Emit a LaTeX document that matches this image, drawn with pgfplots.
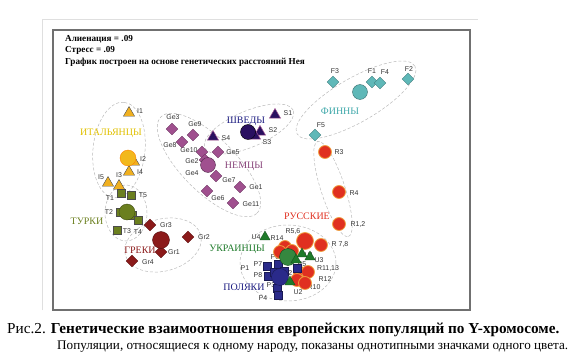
\documentclass[border=0pt]{standalone}
\usepackage{fontspec}
\setmainfont{Liberation Serif}
\setsansfont{Liberation Sans}
\usepackage{pgfplots}
\pgfplotsset{compat=1.18}
\definecolor{finn}{HTML}{5FB8B8}
\definecolor{finnlbl}{HTML}{3FA8AA}
\definecolor{rus}{HTML}{E03020}
\definecolor{rusring}{HTML}{F0A040}
\definecolor{ukr}{HTML}{1E7A2A}
\definecolor{pol}{HTML}{2A2A8A}
\definecolor{ita}{HTML}{F0B020}
\definecolor{italbl}{HTML}{E0C000}
\definecolor{tur}{HTML}{6B7F1F}
\definecolor{gre}{HTML}{8B1A1A}
\definecolor{ger}{HTML}{A0508F}
\definecolor{swe}{HTML}{2A1060}
\definecolor{swelbl}{HTML}{1A1A80}
\definecolor{frame}{HTML}{707070}
\tikzset{
  lbl/.style={font=\sffamily\fontsize{7}{8}\selectfont, text=black!80, inner sep=0pt},
  grp/.style={font=\fontsize{10}{11}\selectfont, inner sep=0pt},
  ell/.style={draw=gray!55, densely dashed, line width=0.5pt}}
\begin{document}
\begin{tikzpicture}[x=1bp,y=1bp]
\path[use as bounding box] (0,0) rectangle (574,359);
\begin{axis}[at={(53bp,49bp)}, anchor=south west, scale only axis,
  width=417bp, height=280bp, xmin=53, xmax=470, ymin=30, ymax=310, y dir=reverse,
  xtick=\empty, ytick=\empty, axis line style={draw=frame, line width=1.8pt}, clip=false]
% ellipses
\draw[ell, rotate around={30:(axis cs:356,100)}] (axis cs:356,100) ellipse [x radius=68bp, y radius=22bp];
\draw[ell, rotate around={-72:(axis cs:333,189)}] (axis cs:333,189) ellipse [x radius=50bp, y radius=12bp];
\draw[ell] (axis cs:288,263) ellipse [x radius=48bp, y radius=38bp];
\draw[ell, rotate around={84:(axis cs:119,150)}] (axis cs:119,150) ellipse [x radius=48bp, y radius=26bp];
\draw[ell] (axis cs:126,213) ellipse [x radius=21bp, y radius=28bp];
\draw[ell, rotate around={15:(axis cs:163,245)}] (axis cs:163,245) ellipse [x radius=39bp, y radius=26bp];
\draw[ell, rotate around={-45:(axis cs:209,165)}] (axis cs:209,165) ellipse [x radius=68bp, y radius=27bp];
\draw[ell, rotate around={23:(axis cs:249,129)}] (axis cs:249,129) ellipse [x radius=48bp, y radius=18bp];
% Finns
\addplot[only marks, mark=square*, mark size=4.2pt, mark options={rotate=45, fill=finn, draw=finn!70!black, line width=0.3pt}] coordinates {(333,82) (372,82) (380,83) (408,79) (315,135)};
\addplot[only marks, mark=*, mark size=7.5pt, mark options={fill=finn, draw=finn!60!black, line width=0.4pt}] coordinates {(360,92)};
% Germans
\addplot[only marks, mark=square*, mark size=4.2pt, mark options={rotate=45, fill=ger, draw=ger!70!black, line width=0.3pt}] coordinates {(172,129) (193,135) (182,142) (202,152) (218,152) (205,160) (216,176) (240,187) (207,191) (233,203)};
\addplot[only marks, mark=*, mark size=7.5pt, mark options={fill=ger, draw=ger!50!black, line width=0.4pt}] coordinates {(208,165)};
% Swedes
\addplot[only marks, mark=triangle*, mark size=6.5pt, mark options={fill=swe, draw=ger, line width=0.5pt}] coordinates {(275,115) (260,132) (255,136) (213,137)};
\addplot[only marks, mark=*, mark size=7.5pt, mark options={fill=swe, draw=black, line width=0.4pt}] coordinates {(248,132)};
% Italians
\addplot[only marks, mark=triangle*, mark size=6.5pt, mark options={fill=ita, draw=black!70, line width=0.4pt}] coordinates {(129,113) (134,162) (129,172) (108,183) (119,186)};
\addplot[only marks, mark=*, mark size=8pt, mark options={fill=ita!90!yellow, draw=orange, line width=0.4pt}] coordinates {(128,158)};
% Turks
\addplot[only marks, mark=square*, mark size=4pt, mark options={fill=tur, draw=black!70, line width=0.3pt}] coordinates {(121,193) (131,195) (120,212) (132,215) (138,220) (117,230)};
\addplot[only marks, mark=*, mark size=8pt, mark options={fill=tur, draw=tur!60!black, line width=0.4pt}] coordinates {(127,212)};
% Greeks
\addplot[only marks, mark=square*, mark size=4.2pt, mark options={rotate=45, fill=gre, draw=gre!70!black, line width=0.3pt}] coordinates {(150,225) (188,237) (161,252) (132,261)};
\addplot[only marks, mark=*, mark size=8.5pt, mark options={fill=gre, draw=gre!60!black, line width=0.4pt}] coordinates {(161,240)};
% Russians
\addplot[only marks, mark=*, mark size=6.5pt, mark options={fill=rus, draw=rusring, line width=0.8pt}] coordinates {(325,152) (339,192) (339,224) (321,245) (285,247) (292,251) (280,252) (300,273) (308,272) (297,280) (305,283)};
\addplot[only marks, mark=*, mark size=8.5pt, mark options={fill=rus, draw=rusring, line width=0.8pt}] coordinates {(305,241)};
% Poles
\addplot[only marks, mark=square*, mark size=4pt, mark options={fill=pol, draw=pol!60!black, line width=0.3pt}] coordinates {(267,266) (278,264) (268,276) (274,272) (284,271) (297,268) (277,288) (278,295)};
\addplot[only marks, mark=*, mark size=8.5pt, mark options={fill=pol, draw=pol!60!black, line width=0.4pt}] coordinates {(280,277)};
% Ukrainians
\addplot[only marks, mark=*, mark size=8.5pt, mark options={fill=ukr!90!white, draw=ukr!60!black, line width=0.4pt}] coordinates {(288,257)};
\addplot[only marks, mark=triangle*, mark size=6pt, mark options={fill=ukr, draw=ukr!60!black, line width=0.3pt}] coordinates {(265,237) (302,254) (296,260) (310,257) (290,282)};
% point labels
\node[lbl] at (axis cs:335,71) {F3};
\node[lbl] at (axis cs:372,71) {F1};
\node[lbl] at (axis cs:385,72) {F4};
\node[lbl] at (axis cs:409,69) {F2};
\node[lbl] at (axis cs:321,125) {F5};
\node[lbl] at (axis cs:339,152) {R3};
\node[lbl] at (axis cs:354,193) {R4};
\node[lbl] at (axis cs:358,225) {R1,2};
\node[lbl] at (axis cs:293,232) {R5,6};
\node[lbl] at (axis cs:340,245) {R 7,8};
\node[lbl] at (axis cs:277,238.5) {R14};
\node[lbl] at (axis cs:284,247.5) {R9};
\node[lbl] at (axis cs:256,237) {U4};
\node[lbl] at (axis cs:309,255) {U1};
\node[lbl] at (axis cs:319,260) {U3};
\node[lbl] at (axis cs:302,264) {P5};
\node[lbl] at (axis cs:275,257) {P6};
\node[lbl] at (axis cs:258,264) {P7};
\node[lbl] at (axis cs:245,268) {P1};
\node[lbl] at (axis cs:258,275) {P8};
\node[lbl] at (axis cs:288,273) {P2};
\node[lbl] at (axis cs:271,285) {P3};
\node[lbl] at (axis cs:263,298) {P4};
\node[lbl] at (axis cs:298,292) {U2};
\node[lbl] at (axis cs:314,287) {R10};
\node[lbl] at (axis cs:328,269) {R11,13};
\node[lbl] at (axis cs:325,279) {R12};
\node[lbl] at (axis cs:140,111) {I1};
\node[lbl] at (axis cs:143,159) {I2};
\node[lbl] at (axis cs:140,172) {I4};
\node[lbl] at (axis cs:119,175) {I3};
\node[lbl] at (axis cs:101,177) {I5};
\node[lbl] at (axis cs:110,198) {T1};
\node[lbl] at (axis cs:143,195) {T5};
\node[lbl] at (axis cs:109,212) {T2};
\node[lbl] at (axis cs:138,232) {T4};
\node[lbl] at (axis cs:127,231) {T3};
\node[lbl] at (axis cs:166,225) {Gr3};
\node[lbl] at (axis cs:204,237) {Gr2};
\node[lbl] at (axis cs:174,252) {Gr1};
\node[lbl] at (axis cs:148,262) {Gr4};
\node[lbl] at (axis cs:173,117) {Ge3};
\node[lbl] at (axis cs:195,124) {Ge9};
\node[lbl] at (axis cs:170,145) {Ge8};
\node[lbl] at (axis cs:189,150) {Ge10};
\node[lbl] at (axis cs:233,152) {Ge5};
\node[lbl] at (axis cs:192,161) {Ge2};
\node[lbl] at (axis cs:192,173) {Ge4};
\node[lbl] at (axis cs:229,180) {Ge7};
\node[lbl] at (axis cs:256,187) {Ge1};
\node[lbl] at (axis cs:218,198) {Ge6};
\node[lbl] at (axis cs:251,204) {Ge11};
\node[lbl] at (axis cs:288,113) {S1};
\node[lbl] at (axis cs:273,130) {S2};
\node[lbl] at (axis cs:267,142) {S3};
\node[lbl] at (axis cs:226,138) {S4};
% group labels
\node[grp, text=finnlbl] at (axis cs:340,111) {ФИННЫ};
\node[grp, text=rus] at (axis cs:307,216) {РУССКИЕ};
\node[grp, text=ukr] at (axis cs:237,249) {УКРАИНЦЫ};
\node[grp, text=swelbl] at (axis cs:244,287) {ПОЛЯКИ};
\node[grp, text=italbl] at (axis cs:111,133) {ИТАЛЬЯНЦЫ};
\node[grp, text=tur] at (axis cs:87,221) {ТУРКИ};
\node[grp, text=gre] at (axis cs:140,250) {ГРЕКИ};
\node[grp, text=ger!85!black] at (axis cs:244,166) {НЕМЦЫ};
\node[grp, text=swelbl] at (axis cs:246,121) {ШВЕДЫ};
% header text
\node[anchor=west, inner sep=0pt, font=\bfseries\fontsize{9.2}{10}\selectfont] at (axis cs:65,39) {Алиенация = .09};
\node[anchor=west, inner sep=0pt, font=\bfseries\fontsize{9.2}{10}\selectfont] at (axis cs:65,50) {Стресс = .09};
\node[anchor=west, inner sep=0pt, font=\bfseries\fontsize{9.2}{10}\selectfont] at (axis cs:65,62) {График построен на основе генетических расстояний Нея};
% outer light frame
\draw[gray!25, line width=1pt] (axis cs:42,310) -- (axis cs:42,19) -- (axis cs:478,19);
% caption
\node[anchor=west, inner sep=0pt, font=\fontsize{15.3}{17}\selectfont] at (axis cs:7,330) {Рис.2. \textbf{Генетические взаимоотношения европейских популяций по Y-хромосоме.}};
\node[anchor=west, inner sep=0pt, font=\fontsize{13.2}{15}\selectfont] at (axis cs:57,347) {Популяции, относящиеся к одному народу, показаны однотипными значками одного цвета.};
\end{axis}
\end{tikzpicture}
\end{document}
